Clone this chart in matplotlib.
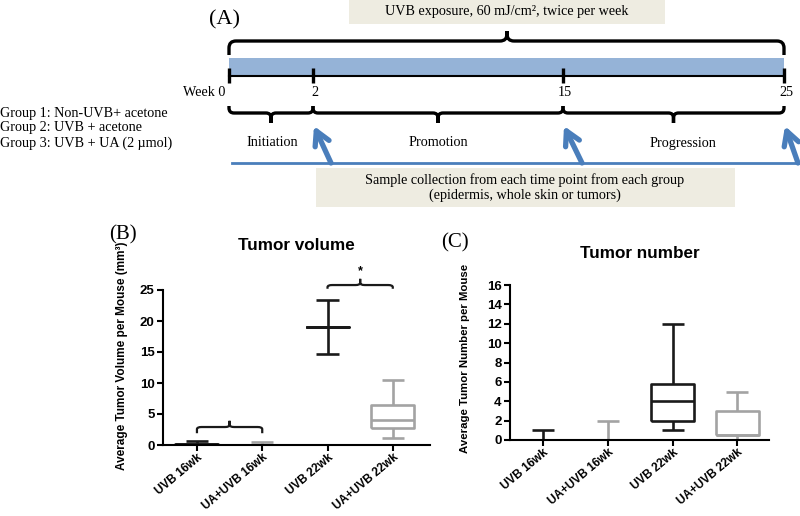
import numpy as np
import matplotlib
matplotlib.use('Agg')
import matplotlib.pyplot as plt
import matplotlib.transforms as mtransforms
from matplotlib.path import Path
from matplotlib.patches import PathPatch, Rectangle

# ---- data ----
week_labels = ["Week 0", "2", "15", "25"]
phase_names = ["Initiation", "Promotion", "Progression"]
group_names = ["Group 1: Non-UVB+ acetone",
               "Group 2: UVB + acetone",
               "Group 3: UVB + UA (2 \u00b5mol)"]
uvb_text = "UVB exposure, 60 mJ/cm\u00b2, twice per week"
sample_text = ["Sample collection from each time point from each group",
               "(epidermis, whole skin or tumors)"]

categories = ["UVB 16wk", "UA+UVB 16wk", "UVB 22wk", "UA+UVB 22wk"]

# tumor volume (mm3): box summary per group
vol_min = [0.0, 0.0, 14.6, 1.1]
vol_q1 = [0.0, 0.0, 19.0, 2.8]
vol_med = [0.1, 0.0, 19.0, 4.1]
vol_q3 = [0.15, 0.05, 19.0, 6.5]
vol_max = [0.7, 0.5, 23.4, 10.5]

# tumor number per mouse
num_min = [0.0, 0.0, 1.0, 0.0]
num_q1 = [0.0, 0.0, 2.0, 0.5]
num_med = [0.0, 0.0, 4.0, 0.5]
num_q3 = [0.05, 0.05, 5.75, 3.0]
num_max = [1.0, 2.0, 12.0, 5.0]

# significance brackets on tumor volume
sig_pairs = [(0, 1), (2, 3)]
sig_levels = [2.9, 25.8]
sig_marks = ["", "*"]

# ---- style ----
serif = "Liberation Serif"
sans = "Liberation Sans"
black = "#1a1a1a"
grey = "#a3a3a3"
box_colors = [black, grey, black, grey]
beige = "#eeece1"
light_blue = "#95b3d7"
arrow_blue = "#4a7ebb"

W, H = 800, 516
fig = plt.figure(figsize=(8, 5.16), dpi=100)


def brace(ax, x0, x1, y, end, tip, rx, ry, xm=None, **kw):
    # curly bracket: ends go to y+end, middle notch to y+tip
    if xm is None:
        xm = (x0 + x1) / 2
    se, st = np.sign(end), np.sign(tip)
    verts = [(x0, y + end), (x0, y + se * ry), (x0, y), (x0 + rx, y),
             (xm - rx, y), (xm, y), (xm, y + st * ry), (xm, y + tip),
             (xm, y + tip), (xm, y + st * ry), (xm, y), (xm + rx, y),
             (x1 - rx, y), (x1, y), (x1, y + se * ry), (x1, y + end)]
    codes = [Path.MOVETO, Path.LINETO, Path.CURVE3, Path.CURVE3,
             Path.LINETO, Path.CURVE3, Path.CURVE3, Path.LINETO,
             Path.MOVETO, Path.LINETO, Path.CURVE3, Path.CURVE3,
             Path.LINETO, Path.CURVE3, Path.CURVE3, Path.LINETO]
    ax.add_patch(PathPatch(Path(verts, codes), fill=False, capstyle='butt',
                           joinstyle='round', **kw))


# ---- panel A: study design schematic (pixel coordinates) ----
ax_a = fig.add_axes([0, 0, 1, 1])
ax_a.set_xlim(0, W)
ax_a.set_ylim(H, 0)
ax_a.axis('off')

tick_x = [229, 313, 563, 784]
fs_a = 10.2

ax_a.text(225, 20, "(A)", family=serif, fontsize=16, ha='center', va='center')

ax_a.add_patch(Rectangle((349, 0), 316, 24, color=beige, lw=0))
ax_a.text(507, 12, uvb_text, family=serif, fontsize=fs_a, ha='center', va='center')
brace(ax_a, tick_x[0], tick_x[-1], 41, 14, -10, 7, 7, xm=507, lw=2.4, color='black')

ax_a.add_patch(Rectangle((tick_x[0], 58), tick_x[-1] - tick_x[0], 17,
                         color=light_blue, lw=0))
ax_a.plot([tick_x[0], tick_x[-1]], [76, 76], color='black', lw=1.5)
for i, (tx, lab) in enumerate(zip(tick_x, week_labels)):
    ax_a.plot([tx, tx], [68, 83], color='black', lw=2.4, solid_capstyle='butt')
    if i == 0:
        ax_a.text(tx - 4, 92, lab, family=serif, fontsize=fs_a, ha='right', va='center')
    else:
        ax_a.text(tx + 2, 92, lab, family=serif, fontsize=fs_a, ha='center', va='center')

phase_x = [272, 438, 683]
for i, name in enumerate(phase_names):
    brace(ax_a, tick_x[i], tick_x[i + 1], 113, -7, 10, 5, 5, lw=2.4, color='black')
    ax_a.text(phase_x[i], 143, name, family=serif, fontsize=fs_a, ha='center', va='center')

for i, g in enumerate(group_names):
    ax_a.text(0, 113 + 15 * i, g, family=serif, fontsize=fs_a, ha='left', va='center')

# sample-collection arrows
ax_a.plot([232, 798], [163, 163], color=arrow_blue, lw=2)
for tx, tail in zip(tick_x[1:], [331, 582, 798]):
    ax_a.annotate('', xy=(tx + 1, 126), xytext=(tail, 163),
                  arrowprops=dict(arrowstyle='->,head_length=1.0,head_width=0.55',
                                  lw=3.8, color=arrow_blue, shrinkA=0, shrinkB=0))

ax_a.add_patch(Rectangle((316, 168), 419, 39, color=beige, lw=0))
ax_a.text(525, 180, sample_text[0], family=serif, fontsize=fs_a, ha='center', va='center')
ax_a.text(525, 195, sample_text[1], family=serif, fontsize=fs_a, ha='center', va='center')


# ---- panels B and C: box plots ----
def box_panel(rect, xlim, ylim, yticks, mins, q1s, meds, q3s, maxs):
    ax = fig.add_axes(rect)
    stats = [dict(whislo=a, q1=b, med=c, q3=d, whishi=e, fliers=[])
             for a, b, c, d, e in zip(mins, q1s, meds, q3s, maxs)]
    pos = np.arange(1, len(stats) + 1)
    bp = ax.bxp(stats, positions=pos, widths=0.66, capwidths=0.34,
                showfliers=False, manage_ticks=False)
    for i, c in enumerate(box_colors):
        for art in [bp['boxes'][i], bp['medians'][i],
                    bp['whiskers'][2 * i], bp['whiskers'][2 * i + 1],
                    bp['caps'][2 * i], bp['caps'][2 * i + 1]]:
            art.set_color(c)
            art.set_linewidth(1.9)
            art.set_solid_capstyle('butt')
    ax.set_xlim(*xlim)
    ax.set_ylim(*ylim)
    ax.set_yticks(yticks)
    ax.set_xticks(pos)
    ax.set_xticklabels([])
    # rotated category labels, right end just right of the tick
    shift = mtransforms.ScaledTranslation(4 / 100, -11 / 100, fig.dpi_scale_trans)
    for p, lab in zip(pos, categories):
        ax.text(p, 0, lab, rotation=40, ha='right', va='center',
                rotation_mode='anchor', family=sans, fontweight='bold',
                fontsize=8.5, transform=ax.get_xaxis_transform() + shift)
    for t in ax.get_yticklabels():
        t.set_family(sans)
        t.set_fontweight('bold')
        t.set_fontsize(9.5)
    for s in ['top', 'right']:
        ax.spines[s].set_visible(False)
    for s in ['left', 'bottom']:
        ax.spines[s].set_linewidth(1.5)
    ax.tick_params(direction='out', length=4, width=1.5, pad=2)
    ax.patch.set_alpha(0)
    return ax


ax_b = box_panel([163 / W, 1 - 445 / H, (430 - 163) / W, (445 - 290) / H],
                 (0.48, 4.57), (0, 25), np.arange(0, 26, 5),
                 vol_min, vol_q1, vol_med, vol_q3, vol_max)
for (i, j), lvl, mark in zip(sig_pairs, sig_levels, sig_marks):
    depth = -1.0 if lvl < 10 else -0.6
    brace(ax_b, i + 1, j + 1, lvl, depth, 1.0, 0.07, 0.35, lw=1.6,
          color=black, clip_on=False)
    if mark:
        ax_b.text((i + j) / 2 + 1, lvl + 1.2, mark, ha='center', va='bottom',
                  family=sans, fontweight='bold', fontsize=9, clip_on=False)

ax_c = box_panel([510 / W, 1 - 440 / H, (769 - 510) / W, (440 - 285) / H],
                 (0.49, 4.49), (0, 16), np.arange(0, 17, 2),
                 num_min, num_q1, num_med, num_q3, num_max)


# panel labels, titles, y labels (figure pixel positions)
def ftext(x, y, s, **kw):
    fig.text(x / W, 1 - y / H, s, **kw)


ftext(123, 235, "(B)", family=serif, fontsize=15, ha='center', va='center')
ftext(455, 243, "(C)", family=serif, fontsize=15, ha='center', va='center')
ftext(296, 246, "Tumor volume", family=sans, fontweight='bold', fontsize=12.3,
      ha='center', va='center')
ftext(640, 253, "Tumor number", family=sans, fontweight='bold', fontsize=12.3,
      ha='center', va='center')
ftext(122, 356, "Average Tumor Volume per Mouse (mm\u00b3)", family=sans,
      fontweight='bold', fontsize=8.5, rotation=90, ha='center', va='center')
ftext(465, 358, "Average Tumor Number per Mouse", family=sans,
      fontweight='bold', fontsize=8.2, rotation=90, ha='center', va='center')

fig.savefig("out.png", dpi=100)
